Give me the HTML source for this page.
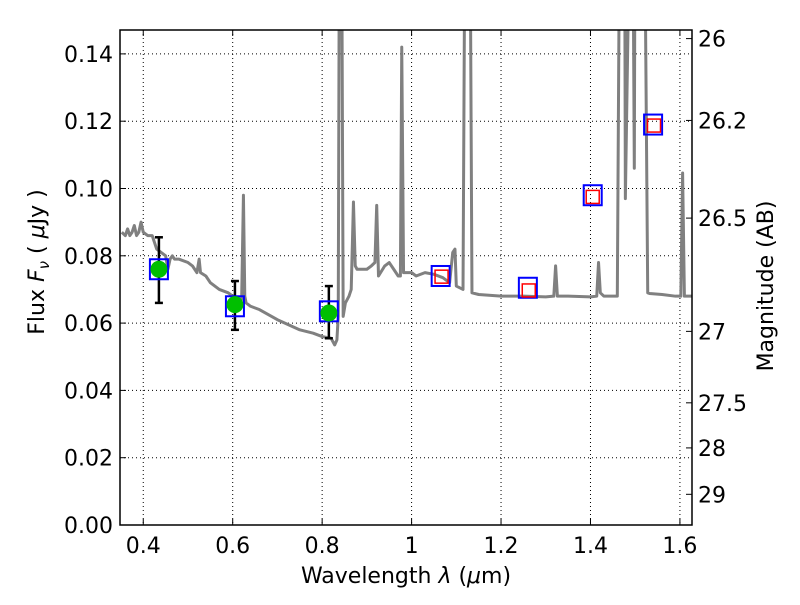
<!DOCTYPE html>
<html><head><meta charset="utf-8"><style>
body{margin:0;background:#fff}
svg text{font-family:"DejaVu Sans","Liberation Sans",sans-serif;fill:#000}
</style></head><body>
<svg id="chart" width="800" height="600">
<rect width="800" height="600" fill="#fff"/>
<g id="grid"></g>
<g id="plot"></g>
<g id="axes"></g>
<text x="406" y="583" font-size="22" text-anchor="middle">Wavelength  <tspan font-style="italic">λ</tspan> (<tspan font-style="italic">μ</tspan>m)</text>
<text transform="translate(44,262) rotate(-90)" font-size="22" text-anchor="middle">Flux  <tspan font-style="italic">F</tspan><tspan font-style="italic" font-size="15" dy="5">ν</tspan><tspan dy="-5">  (  </tspan><tspan font-style="italic">μ</tspan>Jy )</text>
<text transform="translate(773,286) rotate(-90)" font-size="22" text-anchor="middle">Magnitude (AB)</text>
</svg>
<script>
const xTicks=[0.4,0.6,0.8,1.0,1.2,1.4,1.6];
const xTickLabels=["0.4","0.6","0.8","1","1.2","1.4","1.6"];
const yTicks=[0,0.02,0.04,0.06,0.08,0.10,0.12,0.14];
const yTickLabels=["0.00","0.02","0.04","0.06","0.08","0.10","0.12","0.14"];
const magTicks=[26,26.2,26.5,27,27.5,28,29];
const magTickLabels=["26","26.2","26.5","27","27.5","28","29"];
const specWave=[0.352,0.36,0.365,0.37,0.375,0.38,0.385,0.39,0.395,0.40,0.41,0.42,0.425,0.43,0.44,0.45,0.455,0.46,0.465,0.47,0.48,0.50,0.51,0.52,0.525,0.528,0.54,0.55,0.57,0.59,0.60,0.62,0.624,0.627,0.63,0.64,0.66,0.70,0.75,0.78,0.80,0.82,0.828,0.833,0.836,0.839,0.843,0.847,0.852,0.86,0.865,0.87,0.874,0.878,0.885,0.90,0.91,0.918,0.922,0.926,0.94,0.95,0.96,0.97,0.975,0.978,0.982,0.99,1.0,1.01,1.03,1.05,1.07,1.085,1.092,1.097,1.10,1.115,1.12,1.125,1.13,1.135,1.15,1.2,1.25,1.3,1.318,1.322,1.326,1.35,1.4,1.414,1.418,1.422,1.43,1.46,1.466,1.476,1.478,1.49,1.494,1.498,1.50,1.52,1.528,1.532,1.56,1.59,1.602,1.606,1.61,1.627];
const specFlux=[0.087,0.086,0.088,0.086,0.087,0.089,0.086,0.087,0.090,0.087,0.086,0.086,0.084,0.082,0.081,0.080,0.076,0.079,0.080,0.079,0.079,0.078,0.077,0.075,0.079,0.075,0.074,0.072,0.070,0.069,0.068,0.067,0.098,0.068,0.066,0.065,0.064,0.061,0.058,0.057,0.056,0.0555,0.0535,0.055,0.062,0.20,0.20,0.062,0.066,0.068,0.070,0.096,0.077,0.076,0.076,0.076,0.077,0.078,0.095,0.074,0.077,0.078,0.076,0.074,0.074,0.142,0.075,0.075,0.075,0.074,0.075,0.0745,0.0735,0.072,0.081,0.082,0.071,0.070,0.20,0.20,0.20,0.069,0.0685,0.068,0.068,0.0678,0.068,0.077,0.068,0.068,0.0678,0.068,0.078,0.069,0.068,0.068,0.20,0.20,0.097,0.20,0.20,0.106,0.20,0.20,0.069,0.0688,0.0685,0.068,0.068,0.1046,0.068,0.068];
const photWave=[0.435,0.605,0.815];
const photFlux=[0.076,0.0655,0.063];
const photErrLo=[0.066,0.058,0.0555];
const photErrHi=[0.0855,0.0725,0.071];
const modelWave=[0.435,0.605,0.815,1.065,1.26,1.405,1.54];
const modelFlux=[0.076,0.065,0.0635,0.074,0.0705,0.098,0.119];
const predWave=[1.067,1.262,1.405,1.542];
const predFlux=[0.0738,0.0697,0.0975,0.1187];

const L=120,R=692,T=30,B=525,X0=0.348,X1=1.627,Y0=0,Y1=0.1471;
const sx=v=>L+(v-X0)/(X1-X0)*(R-L);
const sy=v=>B-(v-Y0)/(Y1-Y0)*(B-T);
const magToFlux=m=>Math.pow(10,(23.9-m)/2.5);
const NS="http://www.w3.org/2000/svg";
function mk(tag,attrs,parent){const e=document.createElementNS(NS,tag);for(const k in attrs)e.setAttribute(k,attrs[k]);parent.appendChild(e);return e;}
const grid=document.getElementById('grid'),plot=document.getElementById('plot'),axes=document.getElementById('axes');
const defs=mk('defs',{},document.getElementById('chart'));
const cp=mk('clipPath',{id:'clip'},defs);mk('rect',{x:L,y:T,width:R-L,height:B-T},cp);
plot.setAttribute('clip-path','url(#clip)');
xTicks.forEach((v,i)=>{
 const g=mk('line',{x1:sx(v),x2:sx(v),y1:T,y2:B,stroke:'#000','stroke-width':1,'stroke-dasharray':'1,3'},grid);
 
 mk('line',{x1:sx(v),x2:sx(v),y1:B,y2:B-6,stroke:'#000'},axes);
 mk('line',{x1:sx(v),x2:sx(v),y1:T,y2:T+6,stroke:'#000'},axes);
 const t=mk('text',{x:sx(v),y:B+28,'font-size':22,'text-anchor':'middle'},axes);t.textContent=xTickLabels[i];
 
});
yTicks.forEach((v,i)=>{
 const g=mk('line',{x1:L,x2:R,y1:sy(v),y2:sy(v),stroke:'#000','stroke-width':1,'stroke-dasharray':'1,3'},grid);
 
 mk('line',{x1:L,x2:L+6,y1:sy(v),y2:sy(v),stroke:'#000'},axes);
 const t=mk('text',{x:L-7,y:sy(v)+8,'font-size':22,'text-anchor':'end'},axes);t.textContent=yTickLabels[i];
 
});
magTicks.forEach((m,i)=>{
 const y=sy(magToFlux(m));
 mk('line',{x1:R,x2:R-6,y1:y,y2:y,stroke:'#000'},axes);
 const t=mk('text',{x:R+6,y:y+8,'font-size':22},axes);t.textContent=magTickLabels[i];
 
});
mk('rect',{x:L,y:T,width:R-L,height:B-T,fill:'none',stroke:'#000','stroke-width':1.5},axes);
const sp=mk('polyline',{points:specWave.map((w,i)=>sx(w)+','+sy(specFlux[i])).join(' '),fill:'none',stroke:'#808080','stroke-width':3,'stroke-linejoin':'round'},plot);

photWave.forEach((w,i)=>{
 const g=mk('g',{},plot);
 
 const x=sx(w);
 mk('line',{x1:x,x2:x,y1:sy(photErrLo[i]),y2:sy(photErrHi[i]),stroke:'#000','stroke-width':2.5},g);
 mk('line',{x1:x-4,x2:x+4,y1:sy(photErrLo[i]),y2:sy(photErrLo[i]),stroke:'#000','stroke-width':2.5},g);
 mk('line',{x1:x-4,x2:x+4,y1:sy(photErrHi[i]),y2:sy(photErrHi[i]),stroke:'#000','stroke-width':2.5},g);
});
modelWave.forEach((w,i)=>{
 const r=mk('rect',{x:sx(w)-9,y:sy(modelFlux[i])-10,width:18,height:20,fill:'none',stroke:'#0000ff','stroke-width':2},plot);
 
});
photWave.forEach((w,i)=>{
 const c=mk('circle',{cx:sx(w),cy:sy(photFlux[i]),r:8.5,fill:'#00bf00'},plot);
 
});
predWave.forEach((w,i)=>{
 const r=mk('rect',{x:sx(w)-6.5,y:sy(predFlux[i])-6.5,width:13,height:13,fill:'none',stroke:'#ff0000','stroke-width':1.5},plot);
 
});
</script>
</body></html>
